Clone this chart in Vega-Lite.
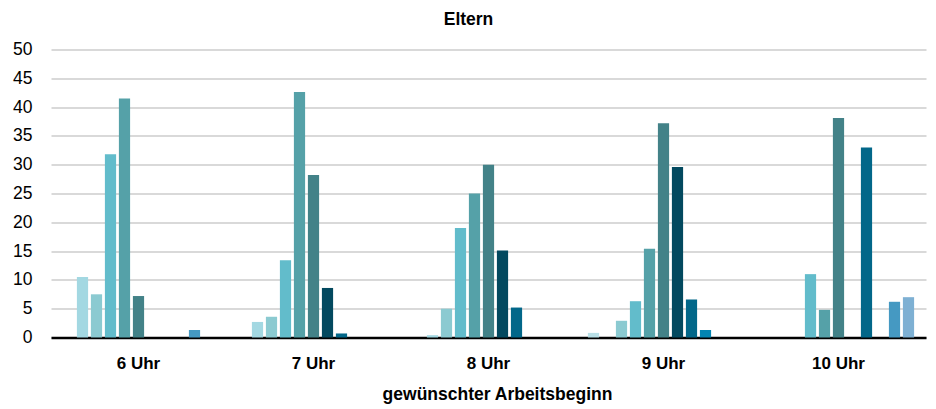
{
  "$schema": "https://vega.github.io/schema/vega-lite/v6.json",
  "width": 875,
  "height": 288,
  "autosize": {"type": "none"},
  "padding": {"left": 51, "top": 49.5, "right": 10, "bottom": 71.5},
  "background": "white",
  "title": {
    "text": "Eltern",
    "font": "Liberation Sans",
    "fontSize": 17.5,
    "fontWeight": "bold",
    "color": "#000000",
    "anchor": "middle",
    "dx": -20,
    "offset": 12
  },
  "data": {
    "values": [
      {"zeit": "6 Uhr", "gruppe": "G01", "wert": 0},
      {"zeit": "6 Uhr", "gruppe": "G02", "wert": 10.5},
      {"zeit": "6 Uhr", "gruppe": "G03", "wert": 7.5},
      {"zeit": "6 Uhr", "gruppe": "G04", "wert": 31.8},
      {"zeit": "6 Uhr", "gruppe": "G05", "wert": 41.5},
      {"zeit": "6 Uhr", "gruppe": "G06", "wert": 7.2},
      {"zeit": "6 Uhr", "gruppe": "G07", "wert": 0},
      {"zeit": "6 Uhr", "gruppe": "G08", "wert": 0},
      {"zeit": "6 Uhr", "gruppe": "G09", "wert": 0},
      {"zeit": "6 Uhr", "gruppe": "G10", "wert": 1.3},
      {"zeit": "6 Uhr", "gruppe": "G11", "wert": 0},
      {"zeit": "7 Uhr", "gruppe": "G01", "wert": 0},
      {"zeit": "7 Uhr", "gruppe": "G02", "wert": 2.7},
      {"zeit": "7 Uhr", "gruppe": "G03", "wert": 3.6},
      {"zeit": "7 Uhr", "gruppe": "G04", "wert": 13.4},
      {"zeit": "7 Uhr", "gruppe": "G05", "wert": 42.6},
      {"zeit": "7 Uhr", "gruppe": "G06", "wert": 28.2},
      {"zeit": "7 Uhr", "gruppe": "G07", "wert": 8.6},
      {"zeit": "7 Uhr", "gruppe": "G08", "wert": 0.7},
      {"zeit": "7 Uhr", "gruppe": "G09", "wert": 0},
      {"zeit": "7 Uhr", "gruppe": "G10", "wert": 0},
      {"zeit": "7 Uhr", "gruppe": "G11", "wert": 0},
      {"zeit": "8 Uhr", "gruppe": "G01", "wert": 0},
      {"zeit": "8 Uhr", "gruppe": "G02", "wert": 0.4},
      {"zeit": "8 Uhr", "gruppe": "G03", "wert": 5.0},
      {"zeit": "8 Uhr", "gruppe": "G04", "wert": 19.0},
      {"zeit": "8 Uhr", "gruppe": "G05", "wert": 25.0},
      {"zeit": "8 Uhr", "gruppe": "G06", "wert": 30.0},
      {"zeit": "8 Uhr", "gruppe": "G07", "wert": 15.1},
      {"zeit": "8 Uhr", "gruppe": "G08", "wert": 5.2},
      {"zeit": "8 Uhr", "gruppe": "G09", "wert": 0},
      {"zeit": "8 Uhr", "gruppe": "G10", "wert": 0},
      {"zeit": "8 Uhr", "gruppe": "G11", "wert": 0},
      {"zeit": "9 Uhr", "gruppe": "G01", "wert": 0.8},
      {"zeit": "9 Uhr", "gruppe": "G02", "wert": 0},
      {"zeit": "9 Uhr", "gruppe": "G03", "wert": 2.9},
      {"zeit": "9 Uhr", "gruppe": "G04", "wert": 6.3},
      {"zeit": "9 Uhr", "gruppe": "G05", "wert": 15.4},
      {"zeit": "9 Uhr", "gruppe": "G06", "wert": 37.2},
      {"zeit": "9 Uhr", "gruppe": "G07", "wert": 29.6},
      {"zeit": "9 Uhr", "gruppe": "G08", "wert": 6.6},
      {"zeit": "9 Uhr", "gruppe": "G09", "wert": 1.3},
      {"zeit": "9 Uhr", "gruppe": "G10", "wert": 0},
      {"zeit": "9 Uhr", "gruppe": "G11", "wert": 0},
      {"zeit": "10 Uhr", "gruppe": "G01", "wert": 0},
      {"zeit": "10 Uhr", "gruppe": "G02", "wert": 0},
      {"zeit": "10 Uhr", "gruppe": "G03", "wert": 0},
      {"zeit": "10 Uhr", "gruppe": "G04", "wert": 11.0},
      {"zeit": "10 Uhr", "gruppe": "G05", "wert": 4.8},
      {"zeit": "10 Uhr", "gruppe": "G06", "wert": 38.1},
      {"zeit": "10 Uhr", "gruppe": "G07", "wert": 0},
      {"zeit": "10 Uhr", "gruppe": "G08", "wert": 33.0},
      {"zeit": "10 Uhr", "gruppe": "G09", "wert": 0},
      {"zeit": "10 Uhr", "gruppe": "G10", "wert": 6.2},
      {"zeit": "10 Uhr", "gruppe": "G11", "wert": 7.0}
    ]
  },
  "mark": {"type": "bar"},
  "encoding": {
    "x": {
      "field": "zeit",
      "type": "nominal",
      "sort": ["6 Uhr", "7 Uhr", "8 Uhr", "9 Uhr", "10 Uhr"],
      "scale": {"paddingInner": 0, "paddingOuter": 0},
      "axis": {
        "title": "gewünschter Arbeitsbeginn",
        "titleFont": "Liberation Sans",
        "titleFontSize": 17.5,
        "titleFontWeight": "bold",
        "titleColor": "#000000",
        "titlePadding": 14,
        "titleX": 446,
        "labelAngle": 0,
        "labelFont": "Liberation Sans",
        "labelFontSize": 17,
        "labelFontWeight": "bold",
        "labelColor": "#000000",
        "labelPadding": 18,
        "ticks": false,
        "domainColor": "#000000",
        "domainWidth": 2.5,
        "grid": false
      }
    },
    "xOffset": {
      "field": "gruppe",
      "type": "nominal",
      "scale": {
        "domain": ["G01", "G02", "G03", "G04", "G05", "G06", "G07", "G08", "G09", "G10", "G11"],
        "paddingInner": 0.2,
        "paddingOuter": 0.85
      }
    },
    "y": {
      "field": "wert",
      "type": "quantitative",
      "scale": {"domain": [0, 50], "nice": false},
      "axis": {
        "title": null,
        "values": [0, 5, 10, 15, 20, 25, 30, 35, 40, 45, 50],
        "labelFont": "Liberation Sans",
        "labelFontSize": 17.5,
        "labelColor": "#000000",
        "labelPadding": 19,
        "ticks": false,
        "domain": false,
        "gridColor": "#d9d9d9",
        "gridWidth": 2
      }
    },
    "color": {
      "field": "gruppe",
      "type": "nominal",
      "legend": null,
      "scale": {
        "domain": ["G01", "G02", "G03", "G04", "G05", "G06", "G07", "G08", "G09", "G10", "G11"],
        "range": ["#b9e0e7", "#a3d8e2", "#8bcad1", "#62bccb", "#55a1a8", "#438288", "#03495f", "#026789", "#0385b2", "#4599c2", "#7eb0d3"]
      }
    }
  },
  "config": {
    "view": {"stroke": null},
    "axis": {"labelFlush": false}
  }
}
